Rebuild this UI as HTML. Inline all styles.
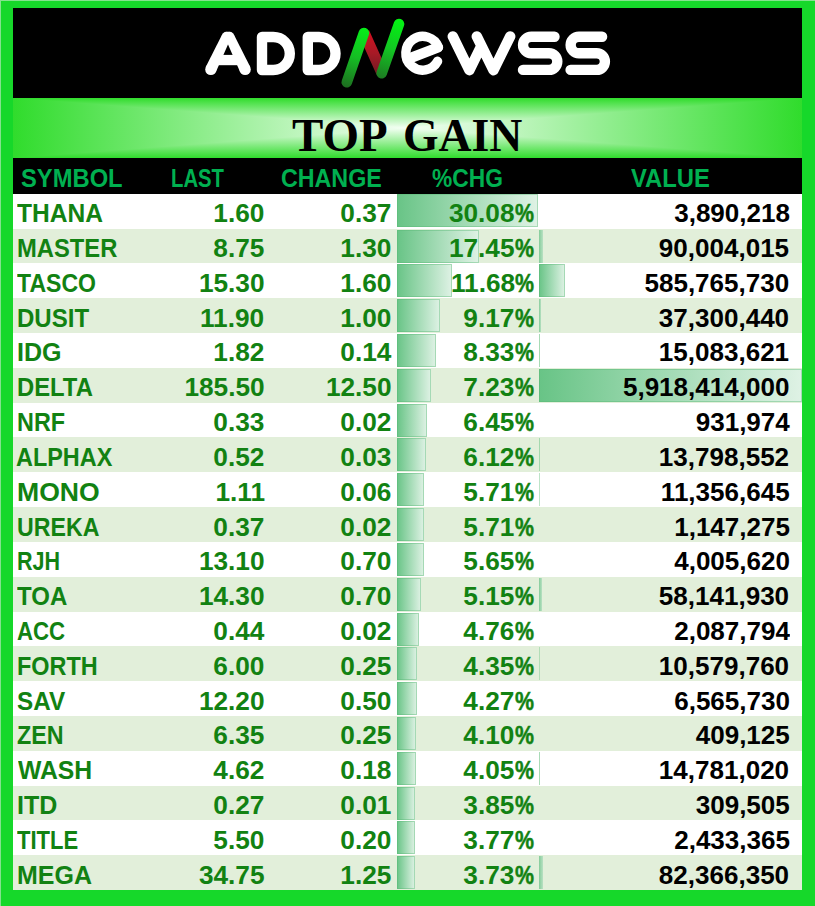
<!DOCTYPE html>
<html><head><meta charset="utf-8"><title>TOP GAIN</title>
<style>
html,body{margin:0;padding:0}
body{width:815px;height:906px;position:relative;overflow:hidden;background:#16d82a;font-family:"Liberation Sans",sans-serif;}
.abs{position:absolute}
.t{position:absolute;white-space:nowrap;font-weight:bold;font-size:25.4px;line-height:35px;height:35px;color:#128212}
.l{transform-origin:0 50%}
.r{transform-origin:100% 50%;text-align:right}
.k{color:#000}
.bar{position:absolute;box-sizing:border-box;border:1px solid rgba(88,184,116,0.42);background:linear-gradient(to right,#68c486,#dff2e5);background-origin:border-box}
.h{color:#00b050}
.q{-webkit-text-stroke:0.5px #128212}
</style></head><body>

<div class="abs" style="left:0;top:0;width:815px;height:1px;background:#84e28e"></div>
<div class="abs" style="left:0;top:0;width:1px;height:906px;background:#84e28e"></div>
<div class="abs" style="left:13px;top:8px;width:789px;height:90px;background:#000"></div>
<svg class="abs" style="left:0;top:0" width="815" height="100" viewBox="0 0 815 100">
<defs>
<linearGradient id="gg" x1="364.4" y1="28" x2="346.7" y2="87" gradientUnits="userSpaceOnUse"><stop offset="0" stop-color="#06ee18"/><stop offset="0.5" stop-color="#15bd24"/><stop offset="1" stop-color="#1d6f20"/></linearGradient><linearGradient id="gg2" x1="399" y1="19" x2="381.3" y2="78" gradientUnits="userSpaceOnUse"><stop offset="0" stop-color="#02f412"/><stop offset="0.5" stop-color="#13c623"/><stop offset="1" stop-color="#1d7c22"/></linearGradient>
<linearGradient id="rg" x1="0" y1="31" x2="0" y2="75" gradientUnits="userSpaceOnUse"><stop offset="0" stop-color="#d4101f"/><stop offset="0.5" stop-color="#a81a26"/><stop offset="1" stop-color="#6e1a22"/></linearGradient>
</defs>
<g fill="none" stroke="#fff" stroke-width="10.4" stroke-linecap="round" stroke-linejoin="round">
<g fill="#fff" stroke="none"><circle cx="226.40" cy="36.50" r="4.70"/><circle cx="210.85" cy="69.45" r="5.65"/><path d="M222.15 34.49 L230.65 38.51 L215.96 71.86 L205.74 67.04 Z"/><circle cx="229.60" cy="36.50" r="4.70"/><circle cx="245.15" cy="69.45" r="5.65"/><path d="M225.35 38.51 L233.85 34.49 L250.26 67.04 L240.04 71.86 Z"/><rect x="216" y="54.9" width="24" height="10.3"/><rect x="226.40" y="31.8" width="3.20" height="8"/></g>
<path d="M262 37 L273.3 37 A16.5 16.5 0 0 1 273.3 70 L262 70 Z"/>
<path d="M307.8 37 L319 37 A16.5 16.5 0 0 1 319 70 L307.8 70 Z"/>
<path d="M437.8 47.5 L407.6 59.1"/>
<path stroke-width="9.4" d="M438.5 47.2 A16.9 16.9 0 1 0 437.6 61.3"/>
<path d="M452.8 36.4 L469.4 70.2 L481.4 45.8 M476.8 36.4 L493.5 70.2 L510.2 36.4"/>
<path d="M554.5 36.7 L531.35 36.7 A8.3 8.3 0 0 0 531.35 53.3 L549 53.3 A8.3 8.3 0 0 1 549 69.9 L523 69.9"/>
<path d="M602.1 36.7 L578.95 36.7 A8.3 8.3 0 0 0 578.95 53.3 L596.6 53.3 A8.3 8.3 0 0 1 596.6 69.9 L570.6 69.9"/>
</g>
<path d="M359.2 36 L363.9 33 L366.5 30.6 L369.2 30.6 L384.4 64.4 L381.5 73.3 L376.5 74.4 Z" fill="url(#rg)"/>
<g fill="none" stroke="url(#gg)" stroke-width="10.6" stroke-linecap="round">
<path d="M346.8 82.2 L363.9 33"/>
<path stroke="url(#gg2)" d="M381.7 73.3 L399 24"/>
</g>
</svg>

<div class="abs" style="left:13px;top:98px;width:789px;height:60px;background:linear-gradient(to right,#30dc2c,#f4fff4 50%,#30dc2c),linear-gradient(to bottom,#30dc2c,#f4fff4 50%,#30dc2c);background-blend-mode:darken"></div>
<div id="title" class="t l k" style="left:292.36px;top:104.6px;transform:scaleX(0.9920);font-family:'Liberation Serif',serif;font-size:47.3px;height:60px;line-height:60px">TOP</div>
<div id="title2" class="t l k" style="left:402.63px;top:104.6px;transform:scaleX(0.9665);font-family:'Liberation Serif',serif;font-size:47.3px;height:60px;line-height:60px">GAIN</div>
<div class="abs" style="left:13px;top:158px;width:789px;height:36px;background:#000"></div>
<div id="h0" class="t l h" style="left:20.50px;top:160.3px;transform:scaleX(0.9355);height:36px;line-height:36px">SYMBOL</div>
<div id="h1" class="t l h" style="left:171.40px;top:160.3px;transform:scaleX(0.7984);height:36px;line-height:36px">LAST</div>
<div id="h2" class="t l h" style="left:281.48px;top:160.3px;transform:scaleX(0.9157);height:36px;line-height:36px">CHANGE</div>
<div id="h3" class="t l h" style="left:432.13px;top:160.3px;transform:scaleX(0.8977);height:36px;line-height:36px">%CHG</div>
<div id="h4" class="t l h" style="left:630.97px;top:160.3px;transform:scaleX(0.9373);height:36px;line-height:36px">VALUE</div>
<div class="abs" style="left:13px;top:194px;width:789px;height:35px;background:#fff"></div>
<div class="bar" style="left:397px;top:194px;width:141.0px;height:33px"></div>
<div id="s0" class="t l " style="left:16.71px;top:196.15px;transform:scaleX(0.9681)">THANA</div>
<div id="a0" class="t r " style="right:550.47px;top:196.15px;transform:scaleX(1.0330)">1.60</div>
<div id="b0" class="t r " style="right:423.27px;top:196.15px;transform:scaleX(1.0330)">0.37</div>
<div id="p0" class="t r " style="right:300.33px;top:196.15px;transform:scaleX(1.0330)">30.08</div>
<div id="q0" class="t l q" style="left:515.38px;top:196.15px;transform:scaleX(0.8419)">%</div>
<div id="v0" class="t r k" style="right:25.48px;top:196.15px;transform:scaleX(1.0250)">3,890,218</div>
<div class="abs" style="left:13px;top:229px;width:789px;height:34px;background:#e2efda"></div>
<div class="bar" style="left:397px;top:230px;width:81.8px;height:33px"></div>
<div class="abs" style="left:539px;top:230px;width:4.0px;height:33px;background:linear-gradient(to right,#84cc9a,#b9e1c3)"></div>
<div id="s1" class="t l " style="left:16.86px;top:230.97px;transform:scaleX(0.9365)">MASTER</div>
<div id="a1" class="t r " style="right:550.47px;top:230.97px;transform:scaleX(1.0330)">8.75</div>
<div id="b1" class="t r " style="right:423.27px;top:230.97px;transform:scaleX(1.0330)">1.30</div>
<div id="p1" class="t r " style="right:300.33px;top:230.97px;transform:scaleX(1.0330)">17.45</div>
<div id="q1" class="t l q" style="left:515.38px;top:230.97px;transform:scaleX(0.8419)">%</div>
<div id="v1" class="t r k" style="right:25.48px;top:230.97px;transform:scaleX(1.0250)">90,004,015</div>
<div class="abs" style="left:13px;top:263px;width:789px;height:35px;background:#fff"></div>
<div class="bar" style="left:397px;top:264px;width:54.8px;height:33px"></div>
<div class="bar" style="left:539px;top:264px;width:26.0px;height:33px"></div>
<div id="s2" class="t l " style="left:17.17px;top:265.79px;transform:scaleX(0.9085)">TASCO</div>
<div id="a2" class="t r " style="right:550.47px;top:265.79px;transform:scaleX(1.0330)">15.30</div>
<div id="b2" class="t r " style="right:423.27px;top:265.79px;transform:scaleX(1.0330)">1.60</div>
<div id="p2" class="t r " style="right:300.33px;top:265.79px;transform:scaleX(1.0330)">11.68</div>
<div id="q2" class="t l q" style="left:515.38px;top:265.79px;transform:scaleX(0.8419)">%</div>
<div id="v2" class="t r k" style="right:25.48px;top:265.79px;transform:scaleX(1.0250)">585,765,730</div>
<div class="abs" style="left:13px;top:298px;width:789px;height:35px;background:#e2efda"></div>
<div class="bar" style="left:397px;top:299px;width:43.0px;height:33px"></div>
<div class="abs" style="left:539px;top:299px;width:1.7px;height:33px;background:linear-gradient(to right,#84cc9a,#b9e1c3)"></div>
<div id="s3" class="t l " style="left:16.84px;top:300.61px;transform:scaleX(0.9468)">DUSIT</div>
<div id="a3" class="t r " style="right:550.47px;top:300.61px;transform:scaleX(1.0330)">11.90</div>
<div id="b3" class="t r " style="right:423.27px;top:300.61px;transform:scaleX(1.0330)">1.00</div>
<div id="p3" class="t r " style="right:300.33px;top:300.61px;transform:scaleX(1.0330)">9.17</div>
<div id="q3" class="t l q" style="left:515.38px;top:300.61px;transform:scaleX(0.8419)">%</div>
<div id="v3" class="t r k" style="right:25.48px;top:300.61px;transform:scaleX(1.0250)">37,300,440</div>
<div class="abs" style="left:13px;top:333px;width:789px;height:35px;background:#fff"></div>
<div class="bar" style="left:397px;top:334px;width:39.0px;height:33px"></div>
<div class="abs" style="left:539px;top:334px;width:1.0px;height:33px;background:#7cc991;opacity:0.67"></div>
<div id="s4" class="t l " style="left:16.77px;top:335.43px;transform:scaleX(0.9868)">IDG</div>
<div id="a4" class="t r " style="right:550.47px;top:335.43px;transform:scaleX(1.0330)">1.82</div>
<div id="b4" class="t r " style="right:423.27px;top:335.43px;transform:scaleX(1.0330)">0.14</div>
<div id="p4" class="t r " style="right:300.33px;top:335.43px;transform:scaleX(1.0330)">8.33</div>
<div id="q4" class="t l q" style="left:515.38px;top:335.43px;transform:scaleX(0.8419)">%</div>
<div id="v4" class="t r k" style="right:25.48px;top:335.43px;transform:scaleX(1.0250)">15,083,621</div>
<div class="abs" style="left:13px;top:368px;width:789px;height:35px;background:#e2efda"></div>
<div class="bar" style="left:397px;top:369px;width:33.9px;height:33px"></div>
<div class="bar" style="left:539px;top:369px;width:262.5px;height:33px"></div>
<div id="s5" class="t l " style="left:16.86px;top:370.25px;transform:scaleX(0.9380)">DELTA</div>
<div id="a5" class="t r " style="right:550.47px;top:370.25px;transform:scaleX(1.0330)">185.50</div>
<div id="b5" class="t r " style="right:423.27px;top:370.25px;transform:scaleX(1.0330)">12.50</div>
<div id="p5" class="t r " style="right:300.33px;top:370.25px;transform:scaleX(1.0330)">7.23</div>
<div id="q5" class="t l q" style="left:515.38px;top:370.25px;transform:scaleX(0.8419)">%</div>
<div id="v5" class="t r k" style="right:25.48px;top:370.25px;transform:scaleX(1.0250)">5,918,414,000</div>
<div class="abs" style="left:13px;top:403px;width:789px;height:34px;background:#fff"></div>
<div class="bar" style="left:397px;top:404px;width:30.2px;height:33px"></div>
<div id="s6" class="t l " style="left:16.89px;top:405.07px;transform:scaleX(0.9212)">NRF</div>
<div id="a6" class="t r " style="right:550.47px;top:405.07px;transform:scaleX(1.0330)">0.33</div>
<div id="b6" class="t r " style="right:423.27px;top:405.07px;transform:scaleX(1.0330)">0.02</div>
<div id="p6" class="t r " style="right:300.33px;top:405.07px;transform:scaleX(1.0330)">6.45</div>
<div id="q6" class="t l q" style="left:515.38px;top:405.07px;transform:scaleX(0.8419)">%</div>
<div id="v6" class="t r k" style="right:25.48px;top:405.07px;transform:scaleX(1.0250)">931,974</div>
<div class="abs" style="left:13px;top:437px;width:789px;height:35px;background:#e2efda"></div>
<div class="bar" style="left:397px;top:438px;width:28.7px;height:33px"></div>
<div class="abs" style="left:539px;top:438px;width:1.0px;height:33px;background:#7cc991;opacity:0.61"></div>
<div id="s7" class="t l " style="left:16.21px;top:439.89px;transform:scaleX(0.9230)">ALPHAX</div>
<div id="a7" class="t r " style="right:550.47px;top:439.89px;transform:scaleX(1.0330)">0.52</div>
<div id="b7" class="t r " style="right:423.27px;top:439.89px;transform:scaleX(1.0330)">0.03</div>
<div id="p7" class="t r " style="right:300.33px;top:439.89px;transform:scaleX(1.0330)">6.12</div>
<div id="q7" class="t l q" style="left:515.38px;top:439.89px;transform:scaleX(0.8419)">%</div>
<div id="v7" class="t r k" style="right:25.48px;top:439.89px;transform:scaleX(1.0250)">13,798,552</div>
<div class="abs" style="left:13px;top:472px;width:789px;height:35px;background:#fff"></div>
<div class="bar" style="left:397px;top:473px;width:26.8px;height:33px"></div>
<div class="abs" style="left:539px;top:473px;width:1.0px;height:33px;background:#7cc991;opacity:0.50"></div>
<div id="s8" class="t l " style="left:16.67px;top:474.71px;transform:scaleX(1.0466)">MONO</div>
<div id="a8" class="t r " style="right:550.47px;top:474.71px;transform:scaleX(1.0330)">1.11</div>
<div id="b8" class="t r " style="right:423.27px;top:474.71px;transform:scaleX(1.0330)">0.06</div>
<div id="p8" class="t r " style="right:300.33px;top:474.71px;transform:scaleX(1.0330)">5.71</div>
<div id="q8" class="t l q" style="left:515.38px;top:474.71px;transform:scaleX(0.8419)">%</div>
<div id="v8" class="t r k" style="right:25.48px;top:474.71px;transform:scaleX(1.0250)">11,356,645</div>
<div class="abs" style="left:13px;top:507px;width:789px;height:35px;background:#e2efda"></div>
<div class="bar" style="left:397px;top:508px;width:26.8px;height:33px"></div>
<div id="s9" class="t l " style="left:17.13px;top:509.53px;transform:scaleX(0.9125)">UREKA</div>
<div id="a9" class="t r " style="right:550.47px;top:509.53px;transform:scaleX(1.0330)">0.37</div>
<div id="b9" class="t r " style="right:423.27px;top:509.53px;transform:scaleX(1.0330)">0.02</div>
<div id="p9" class="t r " style="right:300.33px;top:509.53px;transform:scaleX(1.0330)">5.71</div>
<div id="q9" class="t l q" style="left:515.38px;top:509.53px;transform:scaleX(0.8419)">%</div>
<div id="v9" class="t r k" style="right:25.48px;top:509.53px;transform:scaleX(1.0250)">1,147,275</div>
<div class="abs" style="left:13px;top:542px;width:789px;height:35px;background:#fff"></div>
<div class="bar" style="left:397px;top:543px;width:26.5px;height:33px"></div>
<div id="s10" class="t l " style="left:17.01px;top:544.35px;transform:scaleX(0.8487)">RJH</div>
<div id="a10" class="t r " style="right:550.47px;top:544.35px;transform:scaleX(1.0330)">13.10</div>
<div id="b10" class="t r " style="right:423.27px;top:544.35px;transform:scaleX(1.0330)">0.70</div>
<div id="p10" class="t r " style="right:300.33px;top:544.35px;transform:scaleX(1.0330)">5.65</div>
<div id="q10" class="t l q" style="left:515.38px;top:544.35px;transform:scaleX(0.8419)">%</div>
<div id="v10" class="t r k" style="right:25.48px;top:544.35px;transform:scaleX(1.0250)">4,005,620</div>
<div class="abs" style="left:13px;top:577px;width:789px;height:35px;background:#e2efda"></div>
<div class="bar" style="left:397px;top:578px;width:24.1px;height:33px"></div>
<div class="abs" style="left:539px;top:578px;width:2.6px;height:33px;background:linear-gradient(to right,#84cc9a,#b9e1c3)"></div>
<div id="s11" class="t l " style="left:17.16px;top:579.17px;transform:scaleX(0.9455)">TOA</div>
<div id="a11" class="t r " style="right:550.47px;top:579.17px;transform:scaleX(1.0330)">14.30</div>
<div id="b11" class="t r " style="right:423.27px;top:579.17px;transform:scaleX(1.0330)">0.70</div>
<div id="p11" class="t r " style="right:300.33px;top:579.17px;transform:scaleX(1.0330)">5.15</div>
<div id="q11" class="t l q" style="left:515.38px;top:579.17px;transform:scaleX(0.8419)">%</div>
<div id="v11" class="t r k" style="right:25.48px;top:579.17px;transform:scaleX(1.0250)">58,141,930</div>
<div class="abs" style="left:13px;top:612px;width:789px;height:34px;background:#fff"></div>
<div class="bar" style="left:397px;top:613px;width:22.3px;height:33px"></div>
<div id="s12" class="t l " style="left:16.64px;top:613.99px;transform:scaleX(0.8748)">ACC</div>
<div id="a12" class="t r " style="right:550.47px;top:613.99px;transform:scaleX(1.0330)">0.44</div>
<div id="b12" class="t r " style="right:423.27px;top:613.99px;transform:scaleX(1.0330)">0.02</div>
<div id="p12" class="t r " style="right:300.33px;top:613.99px;transform:scaleX(1.0330)">4.76</div>
<div id="q12" class="t l q" style="left:515.38px;top:613.99px;transform:scaleX(0.8419)">%</div>
<div id="v12" class="t r k" style="right:25.48px;top:613.99px;transform:scaleX(1.0250)">2,087,794</div>
<div class="abs" style="left:13px;top:646px;width:789px;height:35px;background:#e2efda"></div>
<div class="bar" style="left:397px;top:647px;width:20.4px;height:33px"></div>
<div class="abs" style="left:539px;top:647px;width:1.0px;height:33px;background:#7cc991;opacity:0.47"></div>
<div id="s13" class="t l " style="left:16.89px;top:648.81px;transform:scaleX(0.9226)">FORTH</div>
<div id="a13" class="t r " style="right:550.47px;top:648.81px;transform:scaleX(1.0330)">6.00</div>
<div id="b13" class="t r " style="right:423.27px;top:648.81px;transform:scaleX(1.0330)">0.25</div>
<div id="p13" class="t r " style="right:300.33px;top:648.81px;transform:scaleX(1.0330)">4.35</div>
<div id="q13" class="t l q" style="left:515.38px;top:648.81px;transform:scaleX(0.8419)">%</div>
<div id="v13" class="t r k" style="right:25.48px;top:648.81px;transform:scaleX(1.0250)">10,579,760</div>
<div class="abs" style="left:13px;top:681px;width:789px;height:35px;background:#fff"></div>
<div class="bar" style="left:397px;top:682px;width:20.0px;height:33px"></div>
<div id="s14" class="t l " style="left:16.98px;top:683.63px;transform:scaleX(0.9563)">SAV</div>
<div id="a14" class="t r " style="right:550.47px;top:683.63px;transform:scaleX(1.0330)">12.20</div>
<div id="b14" class="t r " style="right:423.27px;top:683.63px;transform:scaleX(1.0330)">0.50</div>
<div id="p14" class="t r " style="right:300.33px;top:683.63px;transform:scaleX(1.0330)">4.27</div>
<div id="q14" class="t l q" style="left:515.38px;top:683.63px;transform:scaleX(0.8419)">%</div>
<div id="v14" class="t r k" style="right:25.48px;top:683.63px;transform:scaleX(1.0250)">6,565,730</div>
<div class="abs" style="left:13px;top:716px;width:789px;height:35px;background:#e2efda"></div>
<div class="bar" style="left:397px;top:717px;width:19.2px;height:33px"></div>
<div id="s15" class="t l " style="left:16.71px;top:718.45px;transform:scaleX(0.9181)">ZEN</div>
<div id="a15" class="t r " style="right:550.47px;top:718.45px;transform:scaleX(1.0330)">6.35</div>
<div id="b15" class="t r " style="right:423.27px;top:718.45px;transform:scaleX(1.0330)">0.25</div>
<div id="p15" class="t r " style="right:300.33px;top:718.45px;transform:scaleX(1.0330)">4.10</div>
<div id="q15" class="t l q" style="left:515.38px;top:718.45px;transform:scaleX(0.8419)">%</div>
<div id="v15" class="t r k" style="right:25.48px;top:718.45px;transform:scaleX(1.0250)">409,125</div>
<div class="abs" style="left:13px;top:751px;width:789px;height:35px;background:#fff"></div>
<div class="bar" style="left:397px;top:752px;width:19.0px;height:33px"></div>
<div class="abs" style="left:539px;top:752px;width:1.0px;height:33px;background:#7cc991;opacity:0.66"></div>
<div id="s16" class="t l " style="left:18.00px;top:753.27px;transform:scaleX(0.9745)">WASH</div>
<div id="a16" class="t r " style="right:550.47px;top:753.27px;transform:scaleX(1.0330)">4.62</div>
<div id="b16" class="t r " style="right:423.27px;top:753.27px;transform:scaleX(1.0330)">0.18</div>
<div id="p16" class="t r " style="right:300.33px;top:753.27px;transform:scaleX(1.0330)">4.05</div>
<div id="q16" class="t l q" style="left:515.38px;top:753.27px;transform:scaleX(0.8419)">%</div>
<div id="v16" class="t r k" style="right:25.48px;top:753.27px;transform:scaleX(1.0250)">14,781,020</div>
<div class="abs" style="left:13px;top:786px;width:789px;height:34px;background:#e2efda"></div>
<div class="bar" style="left:397px;top:787px;width:18.0px;height:33px"></div>
<div id="s17" class="t l " style="left:16.77px;top:788.09px;transform:scaleX(0.9868)">ITD</div>
<div id="a17" class="t r " style="right:550.47px;top:788.09px;transform:scaleX(1.0330)">0.27</div>
<div id="b17" class="t r " style="right:423.27px;top:788.09px;transform:scaleX(1.0330)">0.01</div>
<div id="p17" class="t r " style="right:300.33px;top:788.09px;transform:scaleX(1.0330)">3.85</div>
<div id="q17" class="t l q" style="left:515.38px;top:788.09px;transform:scaleX(0.8419)">%</div>
<div id="v17" class="t r k" style="right:25.48px;top:788.09px;transform:scaleX(1.0250)">309,505</div>
<div class="abs" style="left:13px;top:820px;width:789px;height:35px;background:#fff"></div>
<div class="bar" style="left:397px;top:821px;width:17.7px;height:33px"></div>
<div id="s18" class="t l " style="left:17.18px;top:822.91px;transform:scaleX(0.8679)">TITLE</div>
<div id="a18" class="t r " style="right:550.47px;top:822.91px;transform:scaleX(1.0330)">5.50</div>
<div id="b18" class="t r " style="right:423.27px;top:822.91px;transform:scaleX(1.0330)">0.20</div>
<div id="p18" class="t r " style="right:300.33px;top:822.91px;transform:scaleX(1.0330)">3.77</div>
<div id="q18" class="t l q" style="left:515.38px;top:822.91px;transform:scaleX(0.8419)">%</div>
<div id="v18" class="t r k" style="right:25.48px;top:822.91px;transform:scaleX(1.0250)">2,433,365</div>
<div class="abs" style="left:13px;top:855px;width:789px;height:35px;background:#e2efda"></div>
<div class="bar" style="left:397px;top:856px;width:17.5px;height:33px"></div>
<div class="abs" style="left:539px;top:856px;width:3.7px;height:33px;background:linear-gradient(to right,#84cc9a,#b9e1c3)"></div>
<div id="s19" class="t l " style="left:16.78px;top:857.73px;transform:scaleX(0.9844)">MEGA</div>
<div id="a19" class="t r " style="right:550.47px;top:857.73px;transform:scaleX(1.0330)">34.75</div>
<div id="b19" class="t r " style="right:423.27px;top:857.73px;transform:scaleX(1.0330)">1.25</div>
<div id="p19" class="t r " style="right:300.33px;top:857.73px;transform:scaleX(1.0330)">3.73</div>
<div id="q19" class="t l q" style="left:515.38px;top:857.73px;transform:scaleX(0.8419)">%</div>
<div id="v19" class="t r k" style="right:25.48px;top:857.73px;transform:scaleX(1.0250)">82,366,350</div>
</body></html>
